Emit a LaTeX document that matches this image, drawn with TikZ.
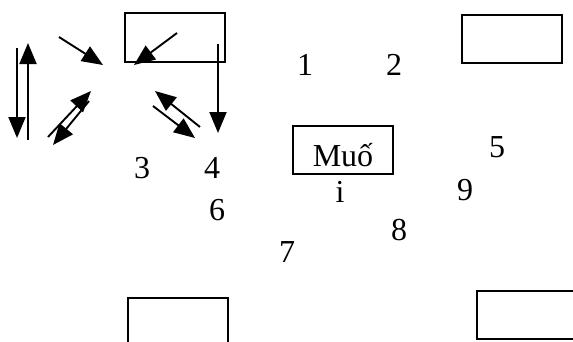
\documentclass[tikz,border=0pt]{standalone}
\usepackage{fontspec}
\setmainfont{Liberation Serif}
\usetikzlibrary{arrows.meta}
\begin{document}
\begin{tikzpicture}[x=1pt,y=-1pt,
  box/.style={draw,line width=1.9pt,inner sep=0pt,anchor=north west},
  arr/.style={line width=1.9pt,-{Triangle[length=21pt,width=17pt]}},
  lbl/.style={font=\fontsize{32}{38}\selectfont,inner sep=0pt,anchor=base}]
\useasboundingbox (0,0) rectangle (573,341);
\clip (0,0) rectangle (573,341);
% boxes
\node[box,minimum width=100pt,minimum height=49pt] (b1) at (124,12) {};
\node[box,minimum width=100pt,minimum height=48pt] (b2) at (461,14) {};
\node[box,minimum width=100pt,minimum height=48pt] (b3) at (292,125) {};
\node[box,minimum width=100pt,minimum height=55pt] (b4) at (127,297) {};
\node[box,minimum width=100pt,minimum height=48pt] (b5) at (476,290) {};
% texts
\node[lbl] (t1) at (305,75) {1};
\node[lbl] (t2) at (394,75) {2};
\node[lbl] (t3) at (142,178) {3};
\node[lbl] (t4) at (212,178) {4};
\node[lbl] (t5) at (497,157) {5};
\node[lbl] (t6) at (217,220) {6};
\node[lbl] (t7) at (287,262) {7};
\node[lbl] (t8) at (399,240) {8};
\node[lbl] (t9) at (465,200) {9};
\node[lbl] (tm) at (343,166) {Muố};
\node[lbl] (ti) at (340,202) {i};
% arrow end points
\coordinate (a1s) at (17,48);   \coordinate (a1e) at (17,138);
\coordinate (a2s) at (28,140);  \coordinate (a2e) at (28,43);
\coordinate (a3s) at (59,37);   \coordinate (a3e) at (103,65);
\coordinate (a4s) at (177,33);  \coordinate (a4e) at (134,65);
\coordinate (a5s) at (218,44);  \coordinate (a5e) at (218,133);
\coordinate (a6s) at (48,137);  \coordinate (a6e) at (91,91);
\coordinate (a7s) at (89,101);  \coordinate (a7e) at (53,145);
\coordinate (a8s) at (200,127); \coordinate (a8e) at (155,91);
\coordinate (a9s) at (153,106); \coordinate (a9e) at (195,138);
\foreach \i in {1,...,9} {\draw[arr] (a\i s) -- (a\i e);}
\end{tikzpicture}
\end{document}
